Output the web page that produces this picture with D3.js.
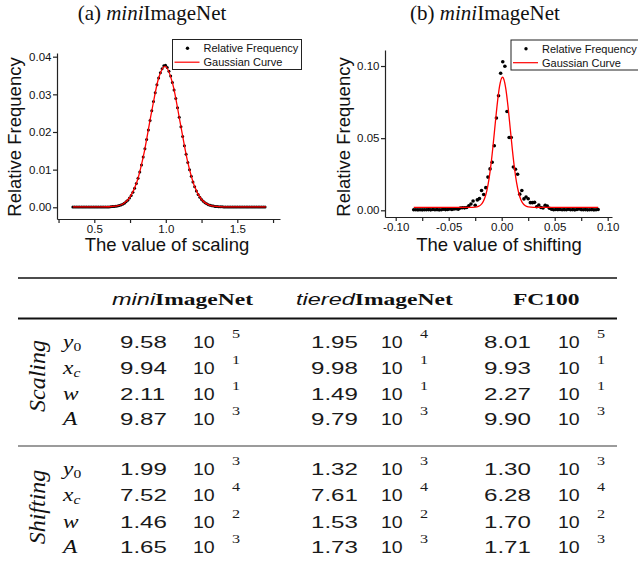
<html>

<head>
    <meta charset="utf-8">
    <title>scaling / shifting distributions</title>
    <script src="https://d3js.org/d3.v7.min.js"></script>
    <style type="text/css">
        body {
            margin: 0;
            background: #fff;
        }

        .tick text {
            font-family: "Liberation Sans", Arial, sans-serif;
            font-size: 11.5px;
            fill: #111;
        }

        .axis path,
        .axis line {
            stroke: #222;
            stroke-width: 1.2;
        }
    </style>
</head>

<body>
</body>
<script>
    // ---- panel (a): value of scaling ----
    const scaleX = [
        0.350, 0.362, 0.374, 0.386, 0.398, 0.410, 0.422, 0.434, 0.446, 0.458,
        0.470, 0.482, 0.494, 0.506, 0.518, 0.530, 0.542, 0.554, 0.566, 0.578,
        0.590, 0.602, 0.614, 0.626, 0.638, 0.650, 0.662, 0.674, 0.686, 0.698,
        0.710, 0.722, 0.734, 0.746, 0.758, 0.770, 0.782, 0.794, 0.806, 0.818,
        0.830, 0.842, 0.854, 0.866, 0.878, 0.890, 0.902, 0.914, 0.926, 0.938,
        0.950, 0.962, 0.974, 0.986, 0.998, 1.010, 1.022, 1.034, 1.046, 1.058,
        1.070, 1.082, 1.094, 1.106, 1.118, 1.130, 1.142, 1.154, 1.166, 1.178,
        1.190, 1.202, 1.214, 1.226, 1.238, 1.250, 1.262, 1.274, 1.286, 1.298,
        1.310, 1.322, 1.334, 1.346, 1.358, 1.370, 1.382, 1.394, 1.406, 1.418,
        1.430, 1.442, 1.454, 1.466, 1.478, 1.490, 1.502, 1.514, 1.526, 1.538,
        1.550, 1.562, 1.574, 1.586, 1.598, 1.610, 1.622, 1.634, 1.646, 1.658,
        1.670, 1.682, 1.694
    ]
    const scaleFreq = [
        0.0001, 0.0001, 0.0001, 0.0001, 0.0001, 0.0001, 0.0001, 0.0001, 0.0001, 0.0001,
        0.0001, 0.0001, 0.0001, 0.0001, 0.0001, 0.0001, 0.0001, 0.0001, 0.0001, 0.0001,
        0.0001, 0.0001, 0.00016, 0.00019, 0.00023, 0.00029, 0.00036, 0.00048, 0.00063, 0.00083,
        0.0011, 0.00145, 0.00189, 0.00246, 0.00316, 0.00402, 0.00506, 0.00629, 0.00773, 0.00939,
        0.01125, 0.01333, 0.01558, 0.01799, 0.0205, 0.02307, 0.02563, 0.02811, 0.03043, 0.03253,
        0.03433, 0.03576, 0.03678, 0.0376, 0.0377, 0.03712, 0.03615, 0.03485, 0.03317, 0.03116,
        0.02891, 0.02647, 0.02393, 0.02136, 0.01882, 0.01637, 0.01406, 0.01192, 0.00999, 0.00826,
        0.00675, 0.00545, 0.00435, 0.00343, 0.00268, 0.00207, 0.00158, 0.0012, 0.00091, 0.00069,
        0.00052, 0.0004, 0.00031, 0.00024, 0.0002, 0.00017, 0.00014, 0.00013, 0.0001, 0.0001,
        0.0001, 0.0001, 0.0001, 0.0001, 0.0001, 0.0001, 0.0001, 0.0001, 0.0001, 0.0001,
        0.0001, 0.0001, 0.0001, 0.0001, 0.0001, 0.0001, 0.0001, 0.0001, 0.0001, 0.0001,
        0.0001, 0.0001, 0.0001
    ]
    const scaleCurveX = [0.35, 0.55, 0.60, 0.65, 0.70, 0.75, 0.80, 0.85, 0.90, 0.95, 0.994,
        1.05, 1.10, 1.15, 1.20, 1.25, 1.30, 1.35, 1.40, 1.50, 1.70]
    const scaleCurveY = [0.0001, 0.0001, 0.00014, 0.00029, 0.00087, 0.00268, 0.00699, 0.01481, 0.02521, 0.03433, 0.03744,
        0.03253, 0.02264, 0.01261, 0.00565, 0.00207, 0.00066, 0.00023, 0.00013, 0.0001, 0.0001]

    // ---- panel (b): value of shifting ----
    const shiftX = [
        -0.083, -0.081, -0.079, -0.077, -0.075, -0.073, -0.071, -0.069, -0.067, -0.065,
        -0.063, -0.061, -0.059, -0.057, -0.055, -0.053, -0.051, -0.049, -0.047, -0.045,
        -0.043, -0.041, -0.039, -0.037, -0.035, -0.033, -0.031, -0.029, -0.027, -0.025,
        -0.023, -0.021, -0.019, -0.017, -0.015, -0.013, -0.011, -0.009, -0.007, -0.005,
        -0.003, -0.001, 0.001, 0.003, 0.005, 0.007, 0.009, 0.011, 0.013, 0.015,
        0.017, 0.019, 0.021, 0.023, 0.025, 0.027, 0.029, 0.031, 0.033, 0.035,
        0.037, 0.039, 0.041, 0.043, 0.045, 0.047, 0.049, 0.051, 0.053, 0.055,
        0.057, 0.059, 0.061, 0.063, 0.065, 0.067, 0.069, 0.071, 0.073, 0.075,
        0.077, 0.079, 0.081, 0.083, 0.085, 0.087, 0.089, 0.091
    ]
    const shiftFreq = [
        0.0004, 0.0004, 0.0003, 0.0004, 0.0003, 0.0004, 0.0004, 0.0005, 0.0003, 0.0006,
        0.0004, 0.0005, 0.0003, 0.0004, 0.0007, 0.0005, 0.0006, 0.0009, 0.0006, 0.0009,
        0.0011, 0.0007, 0.0016, 0.0018, 0.0017, 0.0019, 0.0032, 0.0044, 0.0065, 0.0035,
        0.0072, 0.0081, 0.0137, 0.0110, 0.0157, 0.0230, 0.0287, 0.0333, 0.0447, 0.0640,
        0.0794, 0.0950, 0.1030, 0.0998, 0.0685, 0.0505, 0.0505, 0.0300, 0.0285, 0.0250,
        0.0112, 0.0137, 0.0079, 0.0092, 0.0080, 0.0053, 0.0053, 0.0055, 0.0025, 0.0037,
        0.0019, 0.0016, 0.0035, 0.0030, 0.0014, 0.0008, 0.0004, 0.0006, 0.0005, 0.0006,
        0.0004, 0.0005, 0.0004, 0.0007, 0.0004, 0.0005, 0.0003, 0.0006, 0.0009, 0.0005,
        0.0004, 0.0005, 0.0003, 0.0004, 0.0005, 0.0003, 0.0004, 0.0006
    ]
    const shiftCurveX = [-0.083, -0.030, -0.025, -0.022, -0.020, -0.018, -0.016, -0.014, -0.012, -0.010,
        -0.008, -0.006, -0.004, -0.002, 0.00075, 0.002, 0.004, 0.006, 0.008, 0.010,
        0.012, 0.014, 0.016, 0.018, 0.020, 0.022, 0.025, 0.030, 0.091]
    const shiftCurveY = [0.00199, 0.0020, 0.00217, 0.00269, 0.00358, 0.00532, 0.00848, 0.0137, 0.02162, 0.03249,
        0.04597, 0.06082, 0.07498, 0.08601, 0.0922, 0.09088, 0.08368, 0.07164, 0.05707, 0.04241,
        0.0295, 0.01936, 0.01217, 0.00752, 0.00478, 0.00329, 0.00235, 0.00202, 0.00199]

    // ---- table of fitted parameters ----
    const datasets = [["mini", "ImageNet"], ["tiered", "ImageNet"], ["", "FC100"]]
    const paramSymbol = ["y", "x", "w", "A"]
    const paramSub = ["0", "c", "", ""]
    const scalingMantissa = [["9.58", "1.95", "8.01"], ["9.94", "9.98", "9.93"], ["2.11", "1.49", "2.27"], ["9.87", "9.79", "9.90"]]
    const scalingExp = [["5", "4", "5"], ["1", "1", "1"], ["1", "1", "1"], ["3", "3", "3"]]
    const shiftingMantissa = [["1.99", "1.32", "1.30"], ["7.52", "7.61", "6.28"], ["1.46", "1.53", "1.70"], ["1.65", "1.73", "1.71"]]
    const shiftingExp = [["3", "3", "3"], ["4", "4", "4"], ["2", "2", "2"], ["3", "3", "3"]]

    const sans = '"Liberation Sans", Arial, sans-serif'
    const serif = '"Liberation Serif", "Times New Roman", serif'

    let svg = d3.select("body").append("svg").attr("width", 638).attr("height", 572)
    svg.append("rect").attr("width", 638).attr("height", 572).attr("fill", "#fff")

    function fmtTick(step, digits) {
        // label every second tick only, plain hyphen for negatives
        return d => {
            let k = Math.round(d / step)
            if (Math.abs(d / step - k) > 1e-6) return ""
            return (k * step).toFixed(digits)
        }
    }

    function panel(o) {
        let g = svg.append("g")
        let x = d3.scaleLinear().domain(o.xDomain).range(o.xRange)
        let y = d3.scaleLinear().domain(o.yDomain).range(o.yRange)

        g.append("g").selectAll("circle")
            .data(o.xs.map((v, i) => [v, o.ys[i]]))
            .join("circle")
            .attr("cx", d => x(d[0]))
            .attr("cy", d => y(d[1]))
            .attr("r", o.r)
            .attr("fill", "#000")

        g.append("path")
            .datum(o.cx.map((v, i) => [v, o.cy[i]]))
            .attr("fill", "none")
            .attr("stroke", "#ff0000")
            .attr("stroke-width", 1.3)
            .attr("d", d3.line().x(d => x(d[0])).y(d => y(d[1])).curve(d3.curveMonotoneX))

        g.append("g").attr("class", "axis")
            .attr("transform", `translate(0,${o.yRange[0]})`)
            .call(d3.axisBottom(x).tickValues(o.xTicks).tickFormat(fmtTick(o.xLabelStep, o.xDigits))
                .tickSize(4).tickSizeOuter(0).tickPadding(2))

        g.append("g").attr("class", "axis")
            .attr("transform", `translate(${o.xRange[0]},0)`)
            .call(d3.axisLeft(y).tickValues(o.yTicks).tickFormat(d => d.toFixed(2))
                .tickSize(4).tickSizeOuter(0).tickPadding(1.5))

        g.append("text")
            .attr("transform", `translate(${o.yTitlePos[0]},${o.yTitlePos[1]}) rotate(-90)`)
            .attr("text-anchor", "middle")
            .style("font-family", sans).style("font-size", "18.5px").attr("fill", "#111")
            .text("Relative Frequency")

        g.append("text")
            .attr("x", o.xTitlePos[0]).attr("y", o.xTitlePos[1])
            .attr("text-anchor", "middle")
            .style("font-family", sans).style("font-size", "18.5px").attr("fill", "#111")
            .text(o.xTitle)

        let title = g.append("text")
            .attr("x", o.titlePos[0]).attr("y", o.titlePos[1])
            .attr("text-anchor", "middle")
            .style("font-family", serif).style("font-size", "21px").attr("fill", "#111")
        title.append("tspan").text(o.tag + " ")
        title.append("tspan").style("font-style", "italic").text("mini")
        title.append("tspan").text("ImageNet")

        // legend
        let lg = g.append("g").attr("transform", `translate(${o.legend[0]},${o.legend[1]})`)
        lg.append("rect").attr("width", o.legend[2]).attr("height", 30)
            .attr("fill", "#fff").attr("stroke", "#222").attr("stroke-width", 1)
        lg.append("circle").attr("cx", 15).attr("cy", 8.7).attr("r", 1.7).attr("fill", "#000")
        lg.append("line").attr("x1", 2).attr("x2", 27).attr("y1", 22.7).attr("y2", 22.7)
            .attr("stroke", "#ff0000").attr("stroke-width", 1.2)
        lg.selectAll("text.lab").data(["Relative Frequency", "Gaussian Curve"]).join("text")
            .attr("class", "lab")
            .attr("x", 31).attr("y", (d, i) => 8.7 + i * 14)
            .attr("dy", "0.35em")
            .style("font-family", sans).style("font-size", "11px").attr("fill", "#111")
            .text(d => d)
    }

    panel({
        xs: scaleX, ys: scaleFreq, cx: scaleCurveX, cy: scaleCurveY, r: 1.5,
        xDomain: [0.2392, 1.7986], xRange: [57, 280],
        yDomain: [-0.00311, 0.04098], yRange: [219, 53],
        xTicks: [0.25, 0.5, 0.75, 1.0, 1.25, 1.5, 1.75], xLabelStep: 0.5, xDigits: 1,
        yTicks: [0, 0.01, 0.02, 0.03, 0.04],
        yTitlePos: [21, 137], xTitlePos: [167, 251], xTitle: "The value of scaling",
        titlePos: [152, 20], tag: "(a)",
        legend: [172.5, 39.5, 129]
    })

    panel({
        xs: shiftX, ys: shiftFreq, cx: shiftCurveX, cy: shiftCurveY, r: 1.8,
        xDomain: [-0.1101, 0.10406], xRange: [385, 612],
        yDomain: [-0.00464, 0.1111], yRange: [217, 50],
        xTicks: [-0.1, -0.075, -0.05, -0.025, 0, 0.025, 0.05, 0.075, 0.1], xLabelStep: 0.05, xDigits: 2,
        yTicks: [0, 0.05, 0.1],
        yTitlePos: [350, 137], xTitlePos: [499, 251], xTitle: "The value of shifting",
        titlePos: [485, 20], tag: "(b)",
        legend: [511, 40, 140]
    })

    // ---- table ----
    let tb = svg.append("g")
    const sx = 1.42

    tb.append("line").attr("x1", 18).attr("x2", 617).attr("y1", 278).attr("y2", 278)
        .attr("stroke", "#111").attr("stroke-width", 1.5)
    tb.append("line").attr("x1", 18).attr("x2", 617).attr("y1", 318.5).attr("y2", 318.5)
        .attr("stroke", "#111").attr("stroke-width", 2.2)
    tb.append("line").attr("x1", 18).attr("x2", 617).attr("y1", 446).attr("y2", 446)
        .attr("stroke", "#7a7a7a").attr("stroke-width", 1.4)

    const headX = [112, 296, 513]
    tb.selectAll("text.head").data(datasets).join("text")
        .attr("class", "head")
        .attr("transform", (d, i) => `translate(${headX[i]},305) scale(1.47,1)`)
        .style("font-size", "16px").attr("fill", "#111")
        .each(function (d) {
            let t = d3.select(this)
            t.append("tspan").style("font-family", sans).style("font-style", "italic").text(d[0])
            t.append("tspan").style("font-family", serif).style("font-weight", "bold").text(d[1])
        })

    const numX = [120, 311, 484]
    const tenX = [193, 381, 558]
    const supX = [232, 420, 597]

    function block(name, mant, expo, baselines, midY) {
        let g = tb.append("g")
        g.append("text")
            .attr("transform", `translate(45,${midY}) rotate(-90)`)
            .attr("text-anchor", "middle")
            .style("font-family", serif).style("font-style", "italic").style("font-size", "24px")
            .attr("fill", "#111")
            .text(name)

        let rows = g.selectAll("g.row").data(mant).join("g").attr("class", "row")
            .attr("transform", (d, i) => `translate(0,${baselines[i]})`)

        rows.append("text")
            .attr("transform", `translate(63,0) scale(1.3,1)`)
            .style("font-family", serif).style("font-size", "18px").attr("fill", "#111")
            .each(function (d, i) {
                let t = d3.select(this)
                t.append("tspan").style("font-style", "italic").text(paramSymbol[i])
                if (paramSub[i]) {
                    t.append("tspan").attr("dy", 3).style("font-size", "12px")
                        .style("font-style", paramSub[i] === "c" ? "italic" : "normal")
                        .text(paramSub[i])
                }
            })

        rows.selectAll("text.num").data(d => d).join("text")
            .attr("class", "num")
            .attr("transform", (d, j) => `translate(${numX[j]},0) scale(${sx},1)`)
            .style("font-family", sans).style("font-size", "17px").attr("fill", "#1a1a1a")
            .text(d => d)

        rows.selectAll("text.ten").data(d => d).join("text")
            .attr("class", "ten")
            .attr("transform", (d, j) => `translate(${tenX[j]},0) scale(1.15,1)`)
            .style("font-family", sans).style("font-size", "17px").attr("fill", "#1a1a1a")
            .text("10")

        rows.selectAll("text.sup").data((d, i) => expo[i]).join("text")
            .attr("class", "sup")
            .attr("transform", (d, j) => `translate(${supX[j]},-10) scale(1.35,1)`)
            .style("font-family", serif).style("font-size", "12px").attr("fill", "#1a1a1a")
            .text(d => d)
    }

    block("Scaling", scalingMantissa, scalingExp, [348, 374, 399.5, 425], 376)
    block("Shifting", shiftingMantissa, shiftingExp, [475, 501, 527.5, 553], 507)
</script>

</html>
